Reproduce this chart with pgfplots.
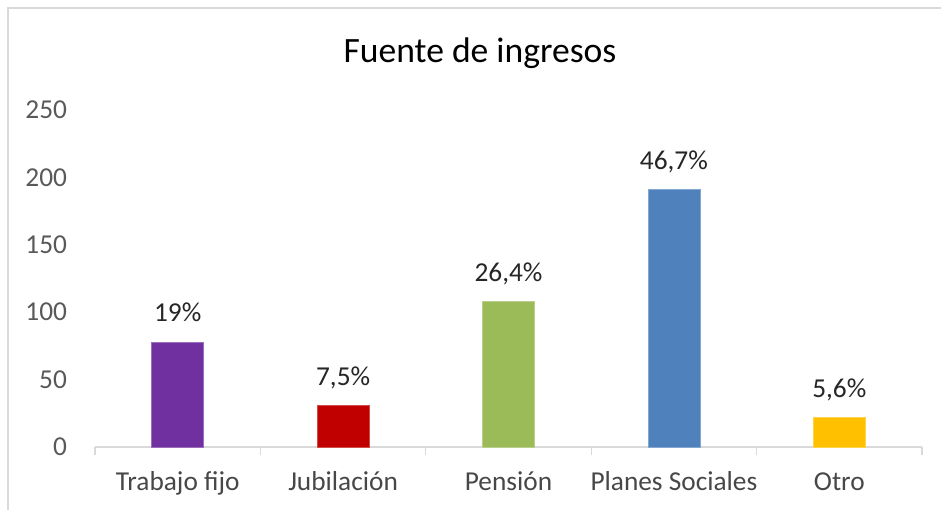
\documentclass[border=0pt]{standalone}
\usepackage{pgfplots}
\pgfplotsset{compat=1.18}
\usepackage{fontspec}
\setmainfont{Carlito}
\definecolor{cPurple}{HTML}{7030A0}
\definecolor{cRed}{HTML}{C00000}
\definecolor{cGreen}{HTML}{9BBB59}
\definecolor{cBlue}{HTML}{4F81BD}
\definecolor{cYellow}{HTML}{FFC000}
\definecolor{gridgray}{HTML}{D9D9D9}
\definecolor{tickgray}{HTML}{595959}
\definecolor{labgray}{HTML}{262626}
\begin{document}
\begin{tikzpicture}
\useasboundingbox (-71.25pt,-47.25pt) rectangle (634.5pt,335.25pt);
\draw[gridgray, line width=1.5pt] (-65.25pt,-47.25pt) -- (-65.25pt,329.25pt) -- (634.5pt,329.25pt);
\begin{axis}[
  at={(0pt,0pt)}, anchor=south west,
  scale only axis, width=620.25pt, height=252.75pt,
  clip=false,
  xmin=-0.5, xmax=4.5, ymin=0, ymax=250,
  ytick={0,50,...,250},
  xtick={0,1,2,3,4},
  xticklabels={Trabajo fijo, Jubilación, Pensión, Planes Sociales, Otro},
  axis x line=bottom, axis y line=left,
  x axis line style={-, draw=gridgray, line width=1pt},
  y axis line style={draw=none},
  major tick length=6pt, tick align=outside,
  xtick style={draw=none}, ytick style={draw=none},
  extra x ticks={-0.5,0.5,1.5,2.5,3.5,4.5},
  extra x tick labels={},
  extra x tick style={xtick style={draw=gridgray, line width=1pt}},
  /pgf/number format/assume math mode=true,
  yticklabel style={font=\fontsize{20.5}{24}\selectfont, color=tickgray, anchor=east, xshift=-11.5pt},
  xticklabel style={font=\fontsize{20.5}{24}\selectfont, color=labgray!85, anchor=base, yshift=-26.5pt},
  ybar, bar width=39pt, bar shift=0pt,
  nodes near coords, point meta=explicit symbolic,
  every node near coord/.append style={anchor=base, yshift=15pt, font=\fontsize{20.5}{24}\selectfont, color=labgray},
]
\addplot[ybar, bar shift=0pt, fill=cPurple, draw=cPurple!70!white] coordinates {(0,78) [19\%]};
\addplot[ybar, bar shift=0pt, fill=cRed, draw=cRed!70!white] coordinates {(1,31) [7,5\%]};
\addplot[ybar, bar shift=0pt, fill=cGreen, draw=cGreen!70!white] coordinates {(2,108) [26,4\%]};
\addplot[ybar, bar shift=0pt, fill=cBlue, draw=cBlue!70!white] coordinates {(3,191) [46,7\%]};
\addplot[ybar, bar shift=0pt, fill=cYellow, draw=cYellow!70!white] coordinates {(4,22) [5,6\%]};
\end{axis}
\node[font=\fontsize{26.7}{30}\selectfont, color=black] at (288.75pt,295pt) {Fuente de ingresos};
\end{tikzpicture}
\end{document}
